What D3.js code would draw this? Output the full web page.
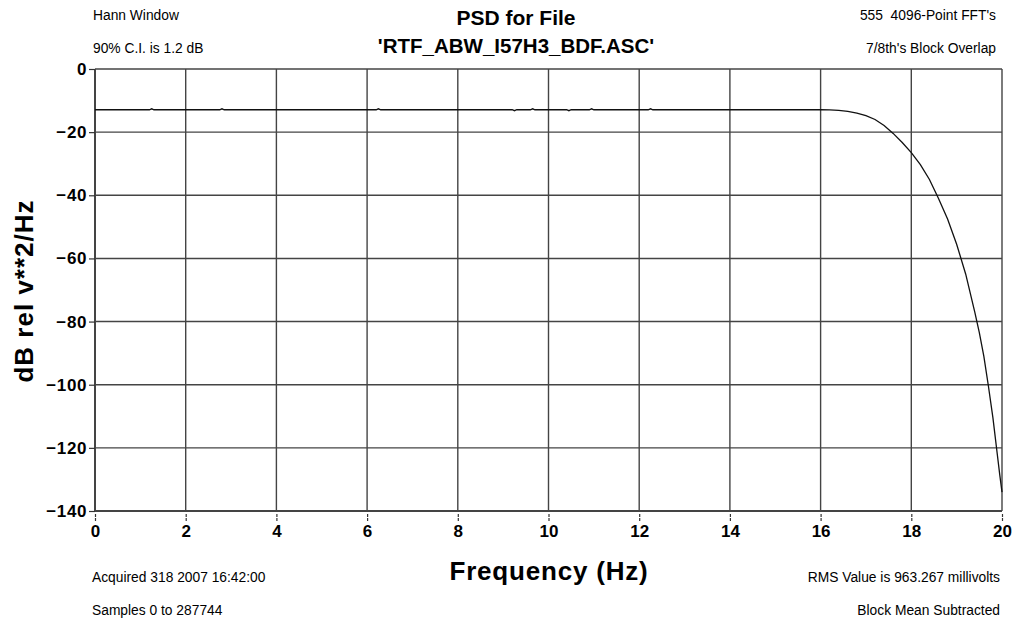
<!DOCTYPE html>
<html>
<head>
<meta charset="utf-8">
<script src="https://cdn.jsdelivr.net/npm/d3@7"></script>
<style>
  html, body { margin: 0; padding: 0; background: #fff; }
  svg { display: block; }
  text { font-family: "Liberation Sans", Arial, sans-serif; fill: #000; white-space: pre; }
</style>
</head>
<body>
<svg id="chart" width="1015" height="623"></svg>
<script>
// Frequency axis (Hz) and PSD level (dB rel v**2/Hz)
const freqHz = [
  0.0, 0.4, 0.8, 1.2, 1.25, 1.3, 1.6, 2.0, 2.4, 2.75, 2.8, 2.85, 3.2, 3.6, 4.0,
  4.6, 5.2, 5.8, 6.2, 6.25, 6.3, 6.8, 7.4, 8.0, 8.6, 9.2, 9.25, 9.3, 9.6, 9.65, 9.7,
  10.0, 10.4, 10.45, 10.5, 10.9, 10.95, 11.0, 11.4, 11.8, 12.2, 12.25, 12.3, 12.8,
  13.2, 13.6, 14.0, 14.5, 15.0, 15.5, 16.0, 16.2, 16.4,
  16.6, 16.8, 17.0, 17.2, 17.4, 17.6, 17.8, 18.0, 18.2, 18.4, 18.6, 18.8, 19.0,
  19.2, 19.4, 19.5, 19.6, 19.7, 19.8, 19.9, 19.95, 20.0
];
const psdDb = [
  -12.9, -12.9, -12.9, -12.9, -12.6, -12.9, -12.9, -12.9, -12.9, -12.9, -12.6, -12.9, -12.9, -12.9, -12.9,
  -12.9, -12.9, -12.9, -12.9, -12.6, -12.9, -12.9, -12.9, -12.9, -12.9, -12.9, -13.2, -12.9, -12.9, -12.6, -12.9,
  -12.9, -12.9, -13.2, -12.9, -12.9, -12.6, -12.9, -12.9, -12.9, -12.9, -12.6, -12.9, -12.9,
  -12.9, -12.9, -12.9, -12.9, -12.9, -12.9, -12.9, -12.95, -13.1,
  -13.4, -14.0, -14.8, -16.0, -17.9, -20.4, -23.3, -26.5, -30.3, -35.0, -41.0, -47.5, -55.5,
  -65.0, -77.0, -83.5, -91.0, -100.4, -110.5, -122.5, -128.5, -134.0
];

const xTicks = [0, 2, 4, 6, 8, 10, 12, 14, 16, 18, 20];
const yTicks = [0, -20, -40, -60, -80, -100, -120, -140];

const titleLines = ["PSD for File", "'RTF_ABW_I57H3_BDF.ASC'"];
const notesTopLeft = ["Hann Window", "90% C.I. is 1.2 dB"];
const notesTopRight = ["555  4096-Point FFT's", "7/8th's Block Overlap"];
const notesBottomLeft = ["Acquired 318 2007 16:42:00", "Samples 0 to 287744"];
const notesBottomRight = ["RMS Value is 963.267 millivolts", "Block Mean Subtracted"];

const svg = d3.select("#chart");
const plot = { left: 95, right: 1002, top: 69, bottom: 511 };

const x = d3.scaleLinear().domain([0, 20]).range([plot.left, plot.right]);
const y = d3.scaleLinear().domain([-140, 0]).range([plot.bottom, plot.top]);

// Grid
const gridColor = "#444";
svg.append("g").selectAll("line").data(xTicks.slice(1)).join("line")
  .attr("x1", d => x(d)).attr("x2", d => x(d))
  .attr("y1", plot.top).attr("y2", plot.bottom)
  .attr("stroke", gridColor).attr("stroke-width", 1.4);
svg.append("g").selectAll("line").data(yTicks.slice(0, -1)).join("line")
  .attr("x1", plot.left).attr("x2", plot.right)
  .attr("y1", d => y(d)).attr("y2", d => y(d))
  .attr("stroke", gridColor).attr("stroke-width", 1.4);

// Frame (left and bottom axis lines)
svg.append("line").attr("x1", plot.left).attr("x2", plot.left)
  .attr("y1", plot.top).attr("y2", plot.bottom)
  .attr("stroke", gridColor).attr("stroke-width", 2);
svg.append("line").attr("x1", plot.left).attr("x2", plot.right)
  .attr("y1", plot.bottom).attr("y2", plot.bottom)
  .attr("stroke", gridColor).attr("stroke-width", 2);

// Axes
const xAxis = d3.axisBottom(x).tickValues(xTicks).tickFormat(d3.format("d"))
  .tickSizeInner(7).tickSizeOuter(0).tickPadding(4);
const gx = svg.append("g").attr("transform", `translate(0,${plot.bottom + 3})`).call(xAxis);
gx.select(".domain").remove();
gx.selectAll(".tick line").attr("stroke", "#333").attr("stroke-width", 1.2).attr("stroke-dasharray", "3,1");
gx.selectAll(".tick text").attr("font-size", 17).attr("font-weight", "bold")
  .attr("font-family", "'Liberation Sans', Arial, sans-serif").attr("fill", "#000");

const yAxis = d3.axisLeft(y).tickValues(yTicks).tickFormat(d => d === 0 ? "0" : "\u2212" + Math.abs(d))
  .tickSizeInner(6).tickSizeOuter(0).tickPadding(2);
const gy = svg.append("g").attr("transform", `translate(${plot.left},0)`).call(yAxis);
gy.select(".domain").remove();
gy.selectAll(".tick line").attr("stroke", "#333").attr("stroke-width", 1.2);
gy.selectAll(".tick text").attr("font-size", 17).attr("font-weight", "bold")
  .attr("letter-spacing", 0.6)
  .attr("font-family", "'Liberation Sans', Arial, sans-serif").attr("fill", "#000");

// PSD trace
const line = d3.line().x((d, i) => x(freqHz[i])).y(d => y(d)).curve(d3.curveLinear);
svg.append("path").datum(psdDb)
  .attr("d", line).attr("fill", "none")
  .attr("stroke", "#111").attr("stroke-width", 1.3);

// Titles
svg.append("g").selectAll("text").data(titleLines).join("text")
  .attr("x", 516).attr("y", (d, i) => 25 + i * 28)
  .attr("text-anchor", "middle").attr("font-size", (d, i) => i ? 20.5 : 21).attr("font-weight", "bold")
  .text(d => d);

// Axis titles
svg.append("text").attr("x", 549).attr("y", 580)
  .attr("text-anchor", "middle").attr("font-size", 26).attr("font-weight", "bold")
  .attr("letter-spacing", 0.8)
  .text("Frequency (Hz)");
svg.append("text").attr("transform", "translate(33,291) rotate(-90)")
  .attr("text-anchor", "middle").attr("font-size", 26).attr("font-weight", "bold")
  .attr("letter-spacing", 1)
  .text("dB rel v**2/Hz");

// Corner notes
function notes(lines, xPos, yTop, anchor) {
  svg.append("g").selectAll("text").data(lines).join("text")
    .attr("x", xPos).attr("y", (d, i) => yTop + i * 33)
    .attr("text-anchor", anchor).attr("font-size", 13.8)
    .text(d => d);
}
notes(notesTopLeft, 93, 20, "start");
notes(notesTopRight, 996, 20, "end");
notes(notesBottomLeft, 92, 582, "start");
notes(notesBottomRight, 1000, 582, "end");
</script>
</body>
</html>
